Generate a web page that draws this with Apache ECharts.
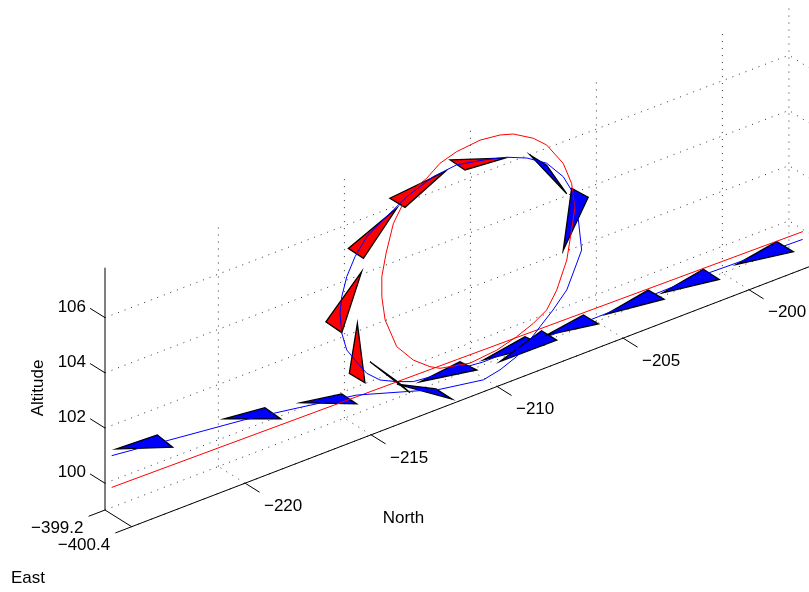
<!DOCTYPE html>
<html>
<head>
<meta charset="utf-8">
<script src="https://cdn.jsdelivr.net/npm/echarts@6/dist/echarts.min.js"></script>
<style>
  html, body { margin: 0; padding: 0; background: #ffffff; }
  #chart { width: 809px; height: 592px; }
</style>
</head>
<body>
<div id="chart"></div>
<script>
// ---- Flown trajectory (North, East, Altitude) ----
const pathNorth = [-224.50, -219.28, -217.03, -214.78, -212.79, -211.47, -209.75, -209.09, -208.43, -207.90,
  -207.50, -206.99, -206.44, -206.07, -205.85, -205.98, -206.18, -206.58, -207.24, -208.02,
  -208.82, -209.62, -210.81, -211.74, -212.79, -213.32, -214.38, -214.84, -215.17, -215.37,
  -215.44, -215.37, -215.17, -214.78, -214.38, -213.85, -213.19, -212.53, -209.77, -205.19,
  -201.15, -197.08];
const pathAlt = [101.15, 100.61, 100.28, 99.94, 99.37, 98.99, 98.73, 98.86, 99.11, 99.53,
  99.87, 100.29, 100.83, 101.60, 102.07, 103.20, 104.24, 104.98, 105.70, 106.16,
  106.47, 106.67, 106.89, 106.79, 106.43, 106.14, 105.54, 104.98, 104.37, 103.71,
  103.15, 102.39, 101.71, 101.14, 100.59, 100.16, 99.87, 99.64, 99.38, 99.42,
  99.48, 99.38];
const pathEast = -399.5;

// ---- Reference: straight leg and loop ----
const refNorth = [-224.5, -197.07];
const refAlt = [100, 99.66];
const loopNorth = [-208.56, -207.77, -207.24, -206.58, -206.25, -206.11, -206.25, -206.44, -206.84, -207.24,
  -207.77, -208.43, -209.22, -210.28, -211.47, -211.87, -212.53, -213.19, -213.65, -213.78,
  -213.78, -213.61, -213.32, -212.93, -212.40, -212.00, -211.47, -210.81, -209.88, -209.09, -208.56];
const loopAlt = [107.22, 106.79, 106.36, 105.46, 104.62, 103.73, 102.93, 101.91, 100.96, 100.38,
  100.08, 99.83, 99.62, 99.52, 99.75, 99.95, 100.42, 101.14, 102.27, 103.15,
  103.88, 104.67, 105.65, 106.24, 106.66, 106.82, 107.18, 107.37, 107.46, 107.37, 107.22];
const refEast = -399.5;

// ---- Aircraft markers: three corners each ----
const markerNorth = [
  [-224.33, -222.69, -222.08], [-220.04, -218.42, -217.79], [-216.99, -215.37, -214.78],
  [-213.18, -211.63, -211.00], [-214.25, -212.66, -213.14], [-212.26, -210.68, -210.01],
  [-209.75, -208.10, -207.37], [-209.09, -207.44, -206.84], [-207.24, -205.78, -205.19],
  [-204.86, -203.21, -202.58], [-202.63, -201.02, -200.39], [-199.70, -198.11, -197.45],
  [-206.25, -205.59, -206.58], [-207.90, -207.24, -206.44], [-211.07, -208.89, -210.48],
  [-211.27, -213.46, -212.86], [-213.19, -215.11, -214.51], [-214.58, -216.00, -215.37],
  [-214.75, -215.07, -214.45]
];
const markerAlt = [
  [101.33, 101.27, 100.61], [100.92, 100.76, 100.13], [100.44, 100.19, 99.62],
  [99.78, 99.06, 98.47], [100.96, 99.28, 99.84], [99.54, 99.71, 99.18],
  [99.45, 99.71, 99.16], [99.16, 99.70, 99.15], [99.47, 99.69, 99.16],
  [99.40, 99.69, 99.14], [99.39, 99.68, 99.09], [99.39, 99.66, 99.06],
  [104.44, 103.89, 102.32], [106.23, 105.63, 104.31], [107.16, 106.46, 106.59],
  [106.81, 106.61, 106.07], [106.15, 105.37, 104.80], [104.34, 103.02, 102.41],
  [102.53, 100.83, 100.27]
];
// 1 = upper surface visible, 0 = lower surface visible
const markerSide = [1, 1, 1, 1, 0, 1, 1, 1, 1, 1, 1, 1, 1, 1, 0, 0, 0, 0, 0];
const markerEast = -399.5;

// ---- Axes ----
const northRange = [-224.5, -197.36];
const eastRange = [-400.4, -399.2];
const altRange = [99.03, 107.81];
const northTicks = [-220, -215, -210, -205, -200];
const eastTicks = [-400.4, -399.2];
const altTicks = [100, 102, 104, 106];

// Orthographic view: screen offset per unit of North, East and Altitude
const view = { x0: 131.7, y0: 526.7, nx: 25.2, ny: -9.67, ex: -22.25, ey: -13.9, ay: -27.6 };
function project(n, e, a) {
  const dn = n - northRange[0], de = e - eastRange[0], da = a - altRange[0];
  return [view.x0 + dn * view.nx + de * view.ex, view.y0 + dn * view.ny + de * view.ey + da * view.ay];
}
function seg(p, q) { const a = project(p[0], p[1], p[2]), b = project(q[0], q[1], q[2]); return [a[0], a[1], b[0], b[1]]; }

const [nMin, nMax] = northRange, [eMin, eMax] = eastRange, [aMin, aMax] = altRange;

// dotted grid on the back wall, floor and right wall
const gridSegs = [];
altTicks.forEach(a => {
  gridSegs.push(seg([nMin, eMax, a], [nMax, eMax, a]));
  gridSegs.push(seg([nMax, eMin, a], [nMax, eMax, a]));
});
northTicks.forEach(n => {
  gridSegs.push(seg([n, eMax, aMin], [n, eMax, aMax]));
  gridSegs.push(seg([n, eMin, aMin], [n, eMax, aMin]));
});
eastTicks.forEach(e => {
  gridSegs.push(seg([nMin, e, aMin], [nMax, e, aMin]));
  gridSegs.push(seg([nMax, e, aMin], [nMax, e, aMax]));
});

// solid axis lines and ticks
const axisSegs = [
  seg([nMin, eMax, aMin], [nMin, eMax, aMax]),
  seg([nMin, eMax, aMin], [nMin, eMin, aMin]),
  seg([nMin, eMin, aMin], [nMax, eMin, aMin])
];
northTicks.forEach(n => axisSegs.push(seg([n, eMin, aMin], [n, eMin - 0.65, aMin])));
altTicks.forEach(a => axisSegs.push(seg([nMin, eMax, a], [nMin, eMax + 0.67, a])));
eastTicks.forEach(e => axisSegs.push(seg([nMin, e, aMin], [nMin - 0.65, e, aMin])));

const minus = v => (v < 0 ? '\u2212' + Math.abs(v) : String(v));
const fmtE = v => '\u2212' + Math.abs(v).toFixed(1);
const labels = [];
northTicks.forEach(n => { const p = project(n, eMin, aMin); labels.push([p[0], p[1], minus(n), 38, 23, 'center']); });
altTicks.forEach(a => { const p = project(nMin, eMax, a); labels.push([p[0], p[1], String(a), -19, -10.5, 'right']); });
eastTicks.forEach(e => { const p = project(nMin, e, aMin); labels.push([p[0], p[1], fmtE(e), -21.5, 18.5, 'right']); });

const pathData = pathNorth.map((n, i) => project(n, pathEast, pathAlt[i]));
const refData = refNorth.map((n, i) => project(n, refEast, refAlt[i]));
const loopData = loopNorth.map((n, i) => project(n, refEast, loopAlt[i]));
const triData = markerNorth.map((ns, i) => {
  const pts = ns.map((n, j) => project(n, markerEast, markerAlt[i][j]));
  return [pts[0][0], pts[0][1], pts[1][0], pts[1][1], pts[2][0], pts[2][1], i];
});

const FONT = '17px "Liberation Sans", Arial, Helvetica, sans-serif';

function segmentSeries(data, style, z) {
  return {
    type: 'custom', coordinateSystem: 'cartesian2d', data: data, z: z, silent: true,
    encode: { x: [0, 2], y: [1, 3] },
    renderItem: (params, api) => {
      const p = api.coord([api.value(0), api.value(1)]);
      const q = api.coord([api.value(2), api.value(3)]);
      return { type: 'line', shape: { x1: p[0], y1: p[1], x2: q[0], y2: q[1] }, style: Object.assign({ fill: null }, style) };
    }
  };
}

const chart = echarts.init(document.getElementById('chart'), null, { renderer: 'canvas' });
chart.setOption({
  animation: false,
  backgroundColor: '#ffffff',
  grid: { left: 0, right: 0, top: 0, bottom: 0 },
  xAxis: { type: 'value', min: 0, max: 809, show: false },
  yAxis: { type: 'value', min: 0, max: 592, inverse: true, show: false },
  graphic: [
    { type: 'text', x: 403.5, y: 518, style: { text: 'North', font: FONT, fill: '#000', align: 'center', verticalAlign: 'middle' } },
    { type: 'text', x: 28, y: 578, style: { text: 'East', font: FONT, fill: '#000', align: 'center', verticalAlign: 'middle' } },
    { type: 'text', x: 38.5, y: 388, rotation: Math.PI / 2, style: { text: 'Altitude', font: FONT, fill: '#000', align: 'center', verticalAlign: 'middle' } }
  ],
  series: [
    segmentSeries(gridSegs, { stroke: '#333', lineWidth: 1, lineDash: [1, 6] }, 1),
    segmentSeries(axisSegs, { stroke: '#000', lineWidth: 1 }, 2),
    {
      type: 'custom', coordinateSystem: 'cartesian2d', data: triData, z: 3, silent: true,
      encode: { x: [0, 2, 4], y: [1, 3, 5] },
      renderItem: (params, api) => {
        const pts = [0, 1, 2].map(j => api.coord([api.value(2 * j), api.value(2 * j + 1)]));
        const side = markerSide[api.value(6)];
        return { type: 'polygon', shape: { points: pts }, style: { fill: side ? '#0000ff' : '#ff0000', stroke: '#000', lineWidth: 1.3, lineJoin: 'miter' } };
      }
    },
    { type: 'line', data: refData, z: 4, symbol: 'none', silent: true, lineStyle: { color: '#ff0000', width: 1 } },
    { type: 'line', data: loopData, z: 4, symbol: 'none', silent: true, lineStyle: { color: '#ff0000', width: 1 } },
    { type: 'line', data: pathData, z: 5, symbol: 'none', silent: true, lineStyle: { color: '#0000ff', width: 1 } },
    {
      type: 'custom', coordinateSystem: 'cartesian2d', data: labels.map((l, i) => [l[0], l[1], i]), z: 6, silent: true,
      encode: { x: 0, y: 1 },
      renderItem: (params, api) => {
        const l = labels[api.value(2)];
        const p = api.coord([api.value(0), api.value(1)]);
        return { type: 'text', x: p[0] + l[3], y: p[1] + l[4], style: { text: l[2], font: FONT, fill: '#000', align: l[5], verticalAlign: 'middle' } };
      }
    }
  ]
});
</script>
</body>
</html>
